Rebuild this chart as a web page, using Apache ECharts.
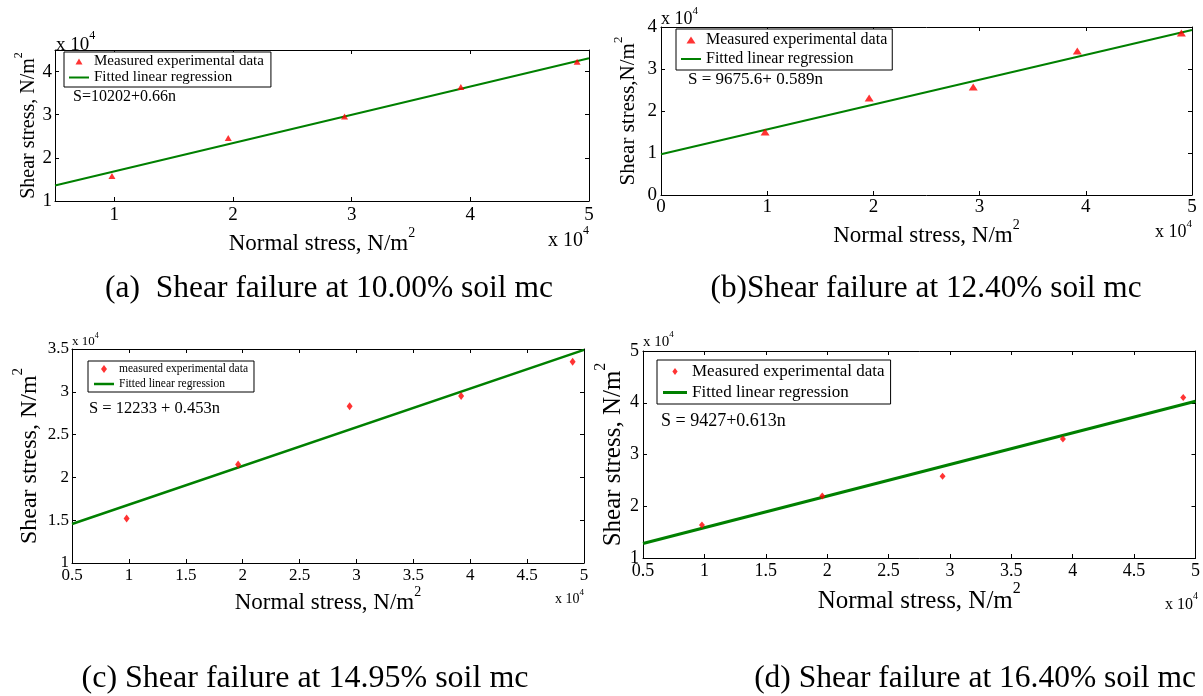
<!DOCTYPE html>
<html><head><meta charset="utf-8">
<script src="https://cdn.jsdelivr.net/npm/echarts@6/dist/echarts.min.js"></script>
<style>html,body{margin:0;padding:0;background:#fff}#c{width:1203px;height:696px}</style>
</head><body><div id="c"></div>
<script>
// ---- data (N/m^2) ----
const normalStress = [9800, 19600, 29400, 39200, 49000];
const shearA = [15800, 24600, 29600, 36400, 42300];
const shearB = [15000, 23100, 25700, 34300, 38600];
const shearC = [15200, 21500, 28300, 29500, 33500];
const shearD = [16400, 22000, 25800, 33000, 41000];
const fitA = [[5000, 13600], [50000, 43100]];
const fitB = [[0, 9700], [50000, 39300]];
const fitC = [[5000, 14560], [50000, 34900]];
const fitD = [[5000, 12800], [50000, 40300]];
const xTicksA = [10000, 20000, 30000, 40000, 50000];
const yTicksA = [10000, 20000, 30000, 40000];
const equations = ['S=10202+0.66n', 'S = 9675.6+ 0.589n', 'S = 12233 + 0.453n', 'S = 9427+0.613n'];
const captions = ['(a)  Shear failure at 10.00% soil mc', '(b)Shear failure at 12.40% soil mc',
  '(c) Shear failure at 14.95% soil mc', '(d) Shear failure at 16.40% soil mc'];
const scatterNames = ['Measured experimental data', 'Measured experimental data ', 'measured experimental data', 'Measured experimental data   '];
const lineNames = ['Fitted linear regression', 'Fitted linear regression ', 'Fitted linear regression  ', 'Fitted linear regression   '];
const xTitles = ['Normal stress, N/m', 'Normal stress, N/m', 'Normal stress, N/m', 'Normal stress, N/m'];
const yTitles = ['Shear stress, N/m', 'Shear stress,N/m', 'Shear stress, N/m', 'Shear stress, N/m'];

const FF = 'Liberation Serif, Times New Roman, serif';
const RED = '#ff0000', GREEN = '#008000';

// ---- layout ----
const panels = [
  { grid: {left: 55, top: 50, width: 534, height: 151}, x: {min: 5000, max: 50000, custom: xTicksA}, y: {min: 10000, max: 45000, custom: yTicksA},
    tick: 19, xm: 5, ym: 3, xn: 23, xg: 19, yn: 20, yg: 16, sym: 'triangle', ss: [7, 6], lw: 2,
    lg: {left: 64, top: 52, font: 15, iw: 20, ih: 6, gap: 1, pad: [2, 7, 2, 5],
         icon: 'path://M0,-3L3.5,3L-3.5,3Z', licon: 'path://M0,0H20V2H0Z'},
    eq: {x: 73, y: 97, font: 16}, expT: {x: 56, y: 42, font: 19}, expB: {x: 589, y: 238, font: 20},
    cap: {x: 329, y: 289, font: 31.5}, data: shearA, fit: fitA },
  { grid: {left: 661, top: 27, width: 531, height: 168}, x: {min: 0, max: 50000, interval: 10000}, y: {min: 0, max: 40000, interval: 10000},
    tick: 19, xm: 3, ym: 4, xn: 23, xg: 22, yn: 21, yg: 22, sym: 'triangle', ss: [9, 7], lw: 2,
    lg: {left: 676, top: 29, font: 16, iw: 20, ih: 7, gap: 3, pad: [3, 5, 3, 5],
         icon: 'path://M0,-3.5L4.5,3.5L-4.5,3.5Z', licon: 'path://M0,0H20V2H0Z'},
    eq: {x: 688, y: 80, font: 17}, expT: {x: 661, y: 17, font: 18}, expB: {x: 1192, y: 230, font: 18},
    cap: {x: 926, y: 289, font: 31.3}, data: shearB, fit: fitB },
  { grid: {left: 72, top: 349, width: 512, height: 214}, x: {min: 5000, max: 50000, interval: 5000}, y: {min: 10000, max: 35000, interval: 5000},
    tick: 17, xm: 4, ym: 3, xn: 23, xg: 21, yn: 24, yg: 30, sym: 'diamond', ss: [6, 8], lw: 2.5,
    lg: {left: 88, top: 361, font: 11.5, iw: 20, ih: 8, gap: 3, pad: [2, 6, 2, 6],
         icon: 'path://M0,-4L3,0L0,4L-3,0Z', licon: 'path://M0,0H20V2.5H0Z'},
    eq: {x: 89, y: 409, font: 16.5}, expT: {x: 72, y: 340, font: 13}, expB: {x: 584, y: 597, font: 14},
    cap: {x: 305, y: 679, font: 32}, data: shearC, fit: fitC },
  { grid: {left: 643, top: 351, width: 555, height: 207}, x: {min: 5000, max: 50000, interval: 5000}, y: {min: 10000, max: 50000, interval: 10000},
    tick: 18, xm: 4, ym: 4, xn: 25, xg: 20, yn: 25, yg: 12, sym: 'diamond', ss: [6, 7], lw: 3,
    lg: {left: 657, top: 360, font: 17, iw: 24, ih: 7, gap: 4, pad: [3, 6, 3, 6],
         icon: 'path://M0,-4L3,0L0,4L-3,0Z', licon: 'path://M0,0H24V3H0Z'},
    eq: {x: 661, y: 421, font: 18}, expT: {x: 643, y: 340, font: 15}, expB: {x: 1198, y: 602, font: 16},
    cap: {x: 975, y: 679, font: 31.5}, data: shearD, fit: fitD }
];

function fmt(v) { return String(+(v / 1e4).toFixed(2)); }
function supRich(size) {
  return {
    b: {fontFamily: FF, fontSize: size, lineHeight: Math.round(size * 1.3), verticalAlign: 'bottom', color: '#000'},
    s: {fontFamily: FF, fontSize: Math.round(size * 0.62), lineHeight: Math.round(size * 0.62), verticalAlign: 'top', color: '#000'}
  };
}

const grid = [], xAxis = [], yAxis = [], series = [], legend = [], graphic = [];
panels.forEach((p, i) => {
  grid.push(Object.assign({containLabel: false}, p.grid));
  const line = {onZero: false, lineStyle: {color: '#000', width: 1}};
  const tickX = {inside: true, length: 4, lineStyle: {color: '#000'}};
  const mk = (ax, pos, isMain, dim) => {
    const o = {
      type: 'value', gridIndex: i, position: pos, min: ax.min, max: ax.max,
      axisLine: line, axisTick: Object.assign({}, tickX), splitLine: {show: false},
      axisLabel: {show: isMain, color: '#000', fontFamily: FF, fontSize: p.tick, margin: dim === 'x' ? p.xm : p.ym, formatter: fmt}
    };
    if (ax.interval) o.interval = ax.interval;
    if (ax.custom) { o.axisTick.customValues = ax.custom; o.axisLabel.customValues = ax.custom; }
    if (isMain) {
      o.nameLocation = 'middle';
      if (dim === 'x') {
        o.name = '{b|' + xTitles[i] + '}{s|2}'; o.nameGap = p.xg; o.nameTextStyle = {rich: supRich(p.xn)};
      } else {
        o.name = '{b|' + yTitles[i] + '}{s|2}'; o.nameGap = p.yg; o.nameTextStyle = {rich: supRich(p.yn)};
      }
    }
    return o;
  };
  xAxis.push(mk(p.x, 'bottom', true, 'x'), mk(p.x, 'top', false, 'x'));
  yAxis.push(mk(p.y, 'left', true, 'y'), mk(p.y, 'right', false, 'y'));
  series.push({
    type: 'scatter', name: scatterNames[i], xAxisIndex: 2 * i, yAxisIndex: 2 * i,
    data: normalStress.map((x, k) => [x, p.data[k]]), symbol: p.sym, symbolSize: p.ss,
    itemStyle: {color: RED}, z: 3, silent: true
  });
  series.push({
    type: 'line', name: lineNames[i], xAxisIndex: 2 * i, yAxisIndex: 2 * i,
    data: p.fit, symbol: 'none', lineStyle: {color: GREEN, width: p.lw}, itemStyle: {color: GREEN}, z: 2, silent: true
  });
  legend.push({
    data: [{name: scatterNames[i], icon: p.lg.icon, itemStyle: {color: RED}},
           {name: lineNames[i], icon: p.lg.licon, itemStyle: {color: GREEN}}],
    left: p.lg.left, top: p.lg.top, orient: 'vertical', borderColor: '#000', borderWidth: 1, backgroundColor: '#fff',
    padding: p.lg.pad, itemGap: p.lg.gap, itemWidth: p.lg.iw, itemHeight: p.lg.ih, itemTextGap: 2,
    textStyle: {fontFamily: FF, fontSize: p.lg.font, color: '#000'}, formatter: n => n.trim(), selectedMode: false
  });
  graphic.push({type: 'text', x: p.eq.x, y: p.eq.y, style: {text: equations[i], fill: '#000', font: p.eq.font + 'px ' + FF, align: 'left', verticalAlign: 'middle'}});
  graphic.push({type: 'text', x: p.expT.x, y: p.expT.y, style: {text: '{b|x 10}{s|4}', rich: supRich(p.expT.font), align: 'left', verticalAlign: 'middle'}});
  graphic.push({type: 'text', x: p.expB.x, y: p.expB.y, style: {text: '{b|x 10}{s|4}', rich: supRich(p.expB.font), align: 'right', verticalAlign: 'middle'}});
  graphic.push({type: 'text', x: p.cap.x, y: p.cap.y, style: {text: captions[i], fill: '#000', font: p.cap.font + 'px ' + FF, align: 'center', verticalAlign: 'middle'}});
});

const chart = echarts.init(document.getElementById('c'), null, {renderer: 'canvas'});
chart.setOption({backgroundColor: '#fff', animation: false, grid, xAxis, yAxis, series, legend, graphic});
</script></body></html>
